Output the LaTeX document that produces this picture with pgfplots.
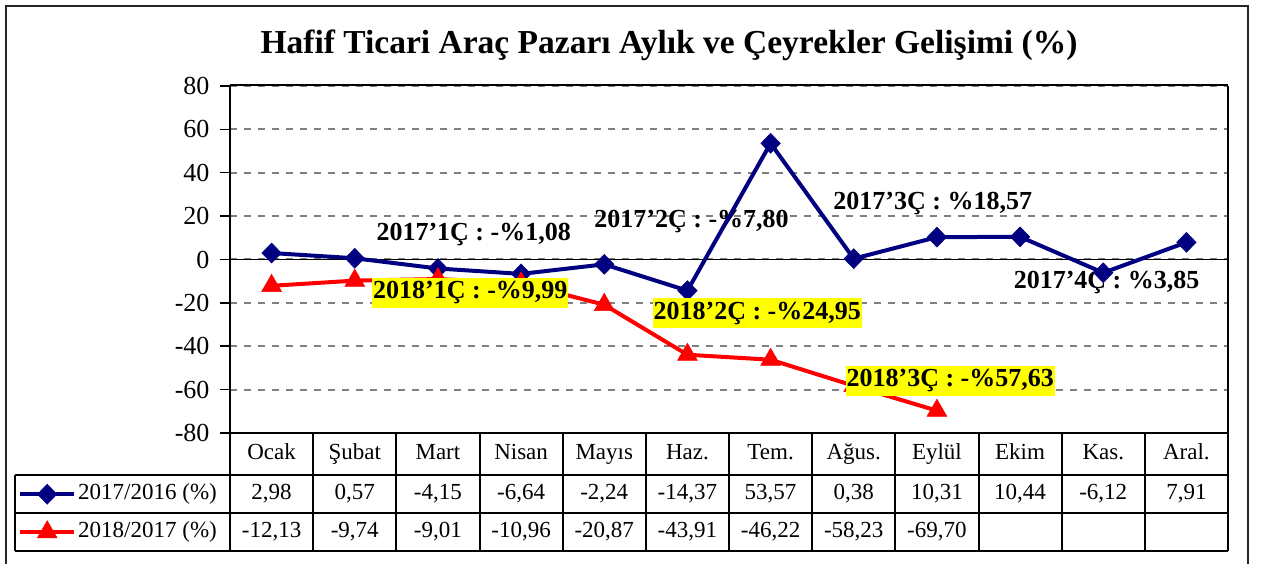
\documentclass[border=0pt]{standalone}
\usepackage{fontspec}
\setmainfont{Liberation Serif}
\usepackage{pgfplots}
\pgfplotsset{compat=1.18}
\definecolor{navy}{RGB}{0,0,128}
\definecolor{gridgray}{RGB}{128,128,128}
\definecolor{hl}{RGB}{255,255,0}

\pgfplotstableread{
x y
0 2.98
1 0.57
2 -4.15
3 -6.64
4 -2.24
5 -14.37
6 53.57
7 0.38
8 10.31
9 10.44
10 -6.12
11 7.91
}\seriesA
\pgfplotstableread{
x y
0 -12.13
1 -9.74
2 -9.01
3 -10.96
4 -20.87
5 -43.91
6 -46.22
7 -58.23
8 -69.70
}\seriesB

\begin{document}
\begin{tikzpicture}[x=1pt,y=1pt,
  anno/.style={font=\fontsize{26}{30}\selectfont\bfseries, inner xsep=1pt, inner ysep=4pt},
  hanno/.style={anno, fill=hl}]
\useasboundingbox (0,0) rectangle (1261,564);
\draw[line width=2pt, black!85] (6,-10) rectangle (1248,558);
\node[font=\fontsize{33.5}{38}\selectfont\bfseries] at (669,519) {Hafif Ticari Araç Pazarı Aylık ve Çeyrekler Gelişimi (\%)};
\begin{axis}[
  at={(230pt,131pt)}, anchor=south west,
  scale only axis, width=998pt, height=347pt,
  xmin=-0.5, xmax=11.5, ymin=-80, ymax=80,
  xtick=\empty,
  ytick={-80,-60,...,80},
  yticklabels={-80,-60,-40,-20,0,20,40,60,80},
  yticklabel style={font=\fontsize{26}{30}\selectfont, xshift=-7pt},
  ytick pos=left, tick align=outside, major tick length=10pt,
  tick style={black, line width=1.5pt},
  ymajorgrids, grid style={gridgray, line width=2pt, dash pattern=on 7pt off 7pt},
  axis line style={draw=none},
  clip=false,
  legend style={at={(axis description cs:-0.2124,-0.1398)}, anchor=north west,
    draw=none, fill=none, inner sep=0pt, row sep=13pt,
    font=\fontsize{23}{27}\selectfont,
    nodes={inner sep=2pt, text height=16pt, text depth=5pt}},
  legend cell align=left,
  legend image code/.code={\draw[mark repeat=2,mark phase=2] plot coordinates {(0pt,0pt)(27pt,0pt)(54pt,0pt)};},
]
\draw[black, line width=1.5pt] (axis cs:-0.5,0) -- (axis cs:11.5,0);
\draw[black, line width=2pt] (rel axis cs:0,0) -- (rel axis cs:0,1);
\draw[black, line width=2pt] (rel axis cs:1,0) -- (rel axis cs:1,1);
\draw[black, line width=1.5pt] ([yshift=1pt]rel axis cs:0,1) -- ([yshift=1pt]rel axis cs:1,1);
\node[anno] at (axis cs:2.43,11.3) {2017’1Ç : -\%1,08};
\node[anno] at (axis cs:5.05,17.3) {2017’2Ç : -\%7,80};
\node[anno] at (axis cs:7.95,26.0) {2017’3Ç : \%18,57};
\node[anno] at (axis cs:10.04,-10.4) {2017’4Ç : \%3,85};
\coordinate (h1) at (axis cs:2.39,-15.4);
\coordinate (h2) at (axis cs:5.84,-24.7);
\coordinate (h3) at (axis cs:8.16,-56.0);
\addplot[navy, line width=4pt, mark=diamond*, mark size=10pt, mark options={solid, xscale=1.3, line width=0.5pt, fill=navy}] table[x=x,y=y] {\seriesA};
\addlegendentry{2017/2016 (\%)}
\addplot[red, line width=4pt, mark=triangle*, mark size=11.5pt, mark options={solid, line width=0.5pt, fill=red}] table[x=x,y=y] {\seriesB};
\addlegendentry{2018/2017 (\%)}
\end{axis}
\node[hanno] at (h1) {2018’1Ç : -\%9,99};
\node[hanno] at (h2) {2018’2Ç : -\%24,95};
\node[hanno] at (h3) {2018’3Ç : -\%57,63};
% data table
\begin{scope}[line width=2pt, black]
\foreach \k in {0,...,12} \draw ({230+83.1667*\k},131) -- ({230+83.1667*\k},13);
\draw (230,131) -- (1228,131);
\draw (15,89) -- (1228,89);
\draw (15,51) -- (1228,51);
\draw (15,13) -- (1228,13);
\draw (15,89) -- (15,13);
\end{scope}
\begin{scope}[font=\fontsize{23}{27}\selectfont, every node/.style={text height=16pt, text depth=5pt, inner sep=0pt}]
\foreach \lab [count=\i from 0] in {Ocak,Şubat,Mart,Nisan,Mayıs,Haz.,Tem.,Ağus.,Eylül,Ekim,Kas.,Aral.}
  \node at ({271.58+83.1667*\i},110) {\lab};
\foreach \v [count=\i from 0] in {{2,98},{0,57},{-4,15},{-6,64},{-2,24},{-14,37},{53,57},{0,38},{10,31},{10,44},{-6,12},{7,91}}
  \node at ({271.58+83.1667*\i},70) {\v};
\foreach \v [count=\i from 0] in {{-12,13},{-9,74},{-9,01},{-10,96},{-20,87},{-43,91},{-46,22},{-58,23},{-69,70}}
  \node at ({271.58+83.1667*\i},32) {\v};
\end{scope}
\end{tikzpicture}
\end{document}
